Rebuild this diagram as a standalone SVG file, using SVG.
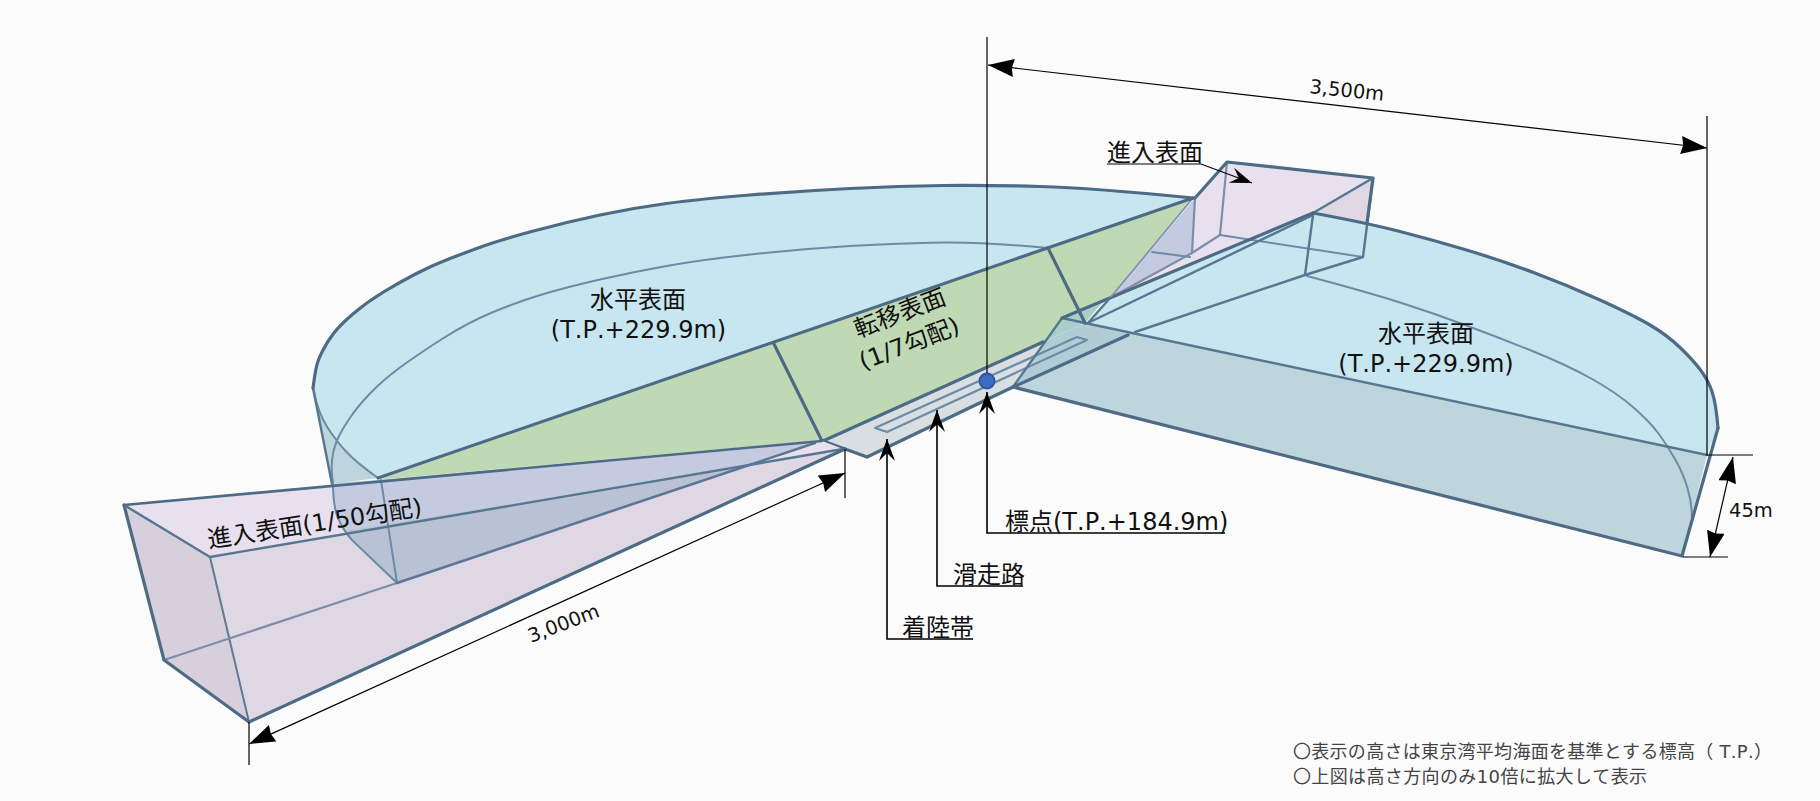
<svg xmlns="http://www.w3.org/2000/svg" width="1820" height="801" viewBox="0 0 1820 801">
<defs>
<style>
text{font-family:"DejaVu Sans","Noto Sans CJK JP",sans-serif;fill:#111;font-size:24px;font-kerning:none}
.e{fill:none;stroke:#4d6b85;stroke-width:3.2;stroke-linejoin:round;stroke-linecap:round}
.m{fill:none;stroke:#557890;stroke-width:2.4;stroke-linecap:round;stroke-linejoin:round}
.t{fill:none;stroke:#6a8ca5;stroke-width:2;stroke-linecap:round;stroke-linejoin:round}
.v{fill:none;stroke:#7c8eaa;stroke-width:2.2;stroke-linecap:round;stroke-linejoin:round}
.d{fill:none;stroke:#000;stroke-width:1.2}
.a{fill:none;stroke:#000;stroke-width:1.6}
.tp{fill:#c8e6ef}
.wl{fill:#bfd5de}
.gr{fill:#c0d9b5}
.pu{fill:#e8e0ee}
.pm{fill:#dfd7e3}
.pd{fill:#d8cfdc}
.bl{fill:#c4cbe0}
.bd{fill:#b9c2d5}
.rw{fill:#d9dee2}
.c{font-size:18px;fill:#444}
.s{font-size:19.5px}
</style>
<marker id="tri" markerUnits="userSpaceOnUse" markerWidth="30" markerHeight="20" refX="26" refY="9" orient="auto-start-reverse"><path d="M26,9L0,0L2,9L0,18z" fill="#000"/></marker>
<marker id="notch" markerUnits="userSpaceOnUse" markerWidth="26" markerHeight="18" refX="22" refY="8" orient="auto"><path d="M22,8L0,0L8,8L0,16z" fill="#000"/></marker>
</defs>
<rect width="1820" height="801" fill="#fbfbfb"/>

<g id="horizontal-surface-left">
<path class="tp" d="M313,388Q315,373 316.5,366.5Q318,360 322.5,351Q327,342 333.5,333.5Q340,325 353.5,313.5Q367,302 383.5,292Q400,282 416.5,273.5Q433,265 450,258.5Q467,252 483.5,246Q500,240 533.5,231Q567,222 600,215Q633,208 666.5,203.5Q700,199 750,195Q800,191 850,188.5Q900,186 943,185.5Q986,185 1039.5,186.5Q1093,188 1193,198L378,478Q357,463 347,452.5Q337,442 327.5,427.5Q318,413 313,388z"/>
<path class="wl" d="M313,388Q318,413 327.5,427.5Q337,442 347,452.5Q357,463 378,478L332,484z"/>
<path class="t" d="M1048,248Q986,242 943,242.5Q900,243 850,246Q800,249 750,254.5Q700,260 666.5,266Q633,272 600,279.5Q567,287 542,294.5Q517,302 492,312.5Q467,323 442,339Q417,355 400,367.5Q383,380 370,393.5Q357,407 348.5,420Q340,433 336.5,441.5Q333,450 332,460Q331,470 333,483"/>
<path class="t" d="M313,388Q318,413 327.5,427.5Q337,442 347,452.5Q357,463 378,478"/>
<path class="m" d="M313,388L332,484"/>
</g>

<g id="transition-surface-left">
<path class="gr" d="M377,480L1193,198L1110,298L1062,318L1043,342L823,440z"/>
</g>

<g id="horizontal-surface-right">
<path class="tp" d="M1313,213Q1367,223 1400,231.5Q1433,240 1466.5,250Q1500,260 1533.5,272.5Q1567,285 1600,300Q1633,315 1650,325Q1667,335 1680,347.5Q1693,360 1700.5,370Q1708,380 1712,391.5Q1716,403 1718,428L1707,455L1085,323L1110,298z"/>
<path class="wl" d="M1085,323L1707,455L1682,556L1013,387z"/>
<path class="t" d="M1307,276Q1367,292 1400,302.5Q1433,313 1466.5,325.5Q1500,338 1533.5,351.5Q1567,365 1592,379Q1617,393 1633.5,407.5Q1650,422 1658.5,433.5Q1667,445 1675,459Q1683,473 1687.5,488Q1692,503 1692,520"/>
</g>

<g id="approach-surface-right">
<path class="pu" d="M1195,198L1227,162L1373,178L1313,213L1250,238L1220,235L1192,253z"/>
<path class="pm" d="M1373,178L1367,223L1313,213z"/>
<path class="pu" d="M1192,253L1220,235L1250,238L1110,298z"/>
<path class="bl" d="M1195,198L1192,253L1110,298z"/>
<path class="v" d="M1195,198L1192,253M1227,162L1220,235M1220,235L1192,253L1110,298"/>
<path class="t" d="M1152,252L1190,257M1220,235L1363,257"/>
<path class="m" d="M1373,178L1363,257L1305,275L1135,332M1305,275L1313,215"/>
<path class="m" d="M1313,215L1090,322"/>
<path class="e" d="M1195,198L1227,162L1373,178L1367,223"/>
</g>

<g id="runway-zone">
<path class="rw" d="M823,440L1043,342L1013,387L867,457z"/>
<path fill="#a9d0c6" d="M1062,318L1102,303L1085,323z"/>
<path fill="#a9cfc9" d="M1062,318L1085,323L1043,342z"/>
<path fill="#b2ccd6" d="M1085,323L1128,335L1013,387L1043,342z"/>
</g>
<g id="runway">
<path class="t" d="M875,428L887,432L1087,340L1077,337z" style="stroke-width:2.2"/>
</g>
<g id="transition-lines">
<path class="m" d="M1062,318L1013,387"/>
<path class="m" d="M1062,318L1085,323L1707,455"/>
<path class="m" d="M1373,178L1313,213"/>
<path class="e" d="M1313,213L1062,318"/>
<path class="v" d="M1193,198L1110,298" style="stroke-width:1.6"/>
<path class="m" d="M1110,298L1088,323"/>
<path class="e" d="M1128,335L1013,387L1682,556L1718,428"/>
<path class="e" d="M1313,213Q1367,223 1400,231.5Q1433,240 1466.5,250Q1500,260 1533.5,272.5Q1567,285 1600,300Q1633,315 1650,325Q1667,335 1680,347.5Q1693,360 1700.5,370Q1708,380 1712,391.5Q1716,403 1718,428"/>
<path class="e" d="M823,441L1043,342M867,457L1013,387M823,441L867,457"/>
<path class="e" d="M378,478L1193,198"/>
<path class="e" d="M774,344L822,441M1048,248L1085,323"/>
<path class="e" d="M313,388Q315,373 316.5,366.5Q318,360 322.5,351Q327,342 333.5,333.5Q340,325 353.5,313.5Q367,302 383.5,292Q400,282 416.5,273.5Q433,265 450,258.5Q467,252 483.5,246Q500,240 533.5,231Q567,222 600,215Q633,208 666.5,203.5Q700,199 750,195Q800,191 850,188.5Q900,186 943,185.5Q986,185 1039.5,186.5Q1093,188 1193,198"/>
</g>

<g id="approach-surface-left">
<path class="pu" d="M124,505L822,441L843,449L210,557z"/>
<path class="pm" d="M210,557L843,449L249,722z"/>
<path class="pd" d="M124,505L210,557L249,722L164,660z"/>
<path class="bl" d="M333,483L377,480L822,441L812,444L397,583L352,540Q343,530 337.5,517Q333,505 333,483z"/>
<path class="bd" d="M344,531L352,540L397,583L747,466z"/>
<path class="t" d="M333,483Q333,505 337.5,517Q343,530 352,540L397,583M381,480L397,583"/>
<path class="t" d="M210,557L249,722" style="stroke:#5e7a94"/>
<path class="v" d="M164,660L397,583"/>
<path class="m" d="M397,583L815,443" style="stroke:#5f7596;stroke-width:2.6"/>
<path class="e" d="M124,505L822,441" style="stroke-width:2.6"/>
<path class="m" d="M124,505L210,557L843,449"/>
<path class="e" d="M124,505L164,660L249,722L845,449"/>
</g>

<g id="reference-point">
<circle cx="987" cy="381" r="7.5" fill="#3c6cc4" stroke="#2f57a3" stroke-width="2"/>
</g>

<g id="connectors">
<path class="d" d="M987,37V373"/>
<path class="d" d="M1707,116V455H1753M1683,557H1728M845,449V498M249,722V765"/>
<path class="d" d="M988,65L1707,148" marker-end="url(#tri)" marker-start="url(#tri)"/>
<path class="d" d="M249,744L845,473" marker-end="url(#tri)" marker-start="url(#tri)"/>
<path class="d" d="M1733,457L1710,557" marker-end="url(#tri)" marker-start="url(#tri)"/>
<path class="a" d="M1225,533H987V392" marker-end="url(#notch)"/>
<path class="a" d="M1023,586H937V410" marker-end="url(#notch)"/>
<path class="a" d="M973,639H887V439" marker-end="url(#notch)"/>
<path class="d" d="M1107,164H1201L1252,183" marker-end="url(#notch)"/>
</g>

<g id="labels">
<text x="1107" y="161">進入表面</text>
<text text-anchor="middle"><tspan x="638" y="308">水平表面</tspan><tspan x="638.5" y="338">(T.P.+229.9m)</tspan></text>
<text text-anchor="middle"><tspan x="1426" y="342">水平表面</tspan><tspan x="1426" y="372">(T.P.+229.9m)</tspan></text>
<text transform="translate(858,338) rotate(-21)"><tspan x="0" y="0">転移表面</tspan><tspan x="-6.8" y="31.7">(1/7勾配)</tspan></text>
<text transform="translate(209,548) rotate(-8.8)">進入表面(1/50勾配)</text>
<text x="1005" y="530">標点(T.P.+184.9m)</text>
<text x="953" y="583">滑走路</text>
<text x="902" y="636">着陸帯</text>
<text class="s" transform="translate(1309,93) rotate(6)">3,500m</text>
<text class="s" transform="translate(531,643) rotate(-21)">3,000m</text>
<text class="s" x="1729" y="517">45m</text>
<text class="c" x="1293" y="758" textLength="479">〇表示の高さは東京湾平均海面を基準とする標高（ T.P.）</text>
<text class="c" x="1293" y="783" textLength="354">〇上図は高さ方向のみ10倍に拡大して表示</text>
</g>
</svg>
